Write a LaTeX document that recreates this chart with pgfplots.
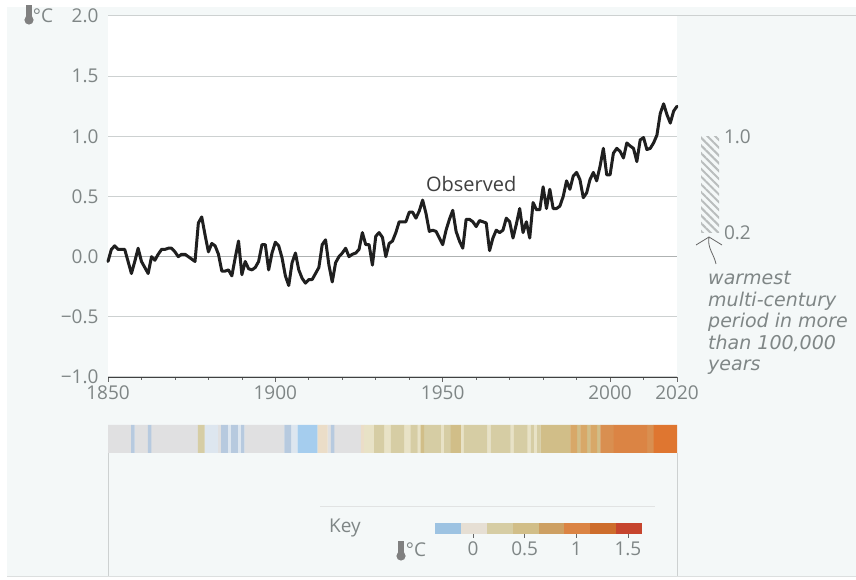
\documentclass[border=0pt]{standalone}
\usepackage{fontspec}
\setmainfont{Open Sans}
\newfontfamily\handfont{DejaVu Sans}[ItalicFont={DejaVu Sans Oblique}]
\usepackage{pgfplots}
\pgfplotsset{compat=1.18}
\usetikzlibrary{patterns.meta}
\definecolor{panel}{HTML}{F4F8F8}
\definecolor{gridc}{HTML}{CDD1D1}
\definecolor{txt}{HTML}{7F8686}
\definecolor{hatchc}{HTML}{B9BDBD}
\definecolor{sG}{HTML}{E0E0E1}
\definecolor{sL}{HTML}{DDE6EF}
\definecolor{sBG}{HTML}{B7CADF}
\definecolor{sB}{HTML}{A5CDEE}
\definecolor{sK}{HTML}{EBDDC8}
\definecolor{sP}{HTML}{E8E2C6}
\definecolor{sT}{HTML}{D6CDA4}
\definecolor{sU}{HTML}{D1BE88}
\definecolor{sO}{HTML}{D8A868}
\definecolor{sR}{HTML}{D98F50}
\definecolor{sS}{HTML}{DB8444}
\definecolor{sX}{HTML}{DF7630}
\newcommand{\bodyfont}{\fontsize{19}{22}\selectfont}
\begin{document}
\begin{tikzpicture}[x=1pt,y=1pt]
\path[use as bounding box] (0,0) rectangle (856,580);
\fill[white] (0,0) rectangle (856,580);
\fill[panel] (7,4) rectangle (856,573);
% panel rules
\draw[gridc,line width=0.8pt] (108,127) -- (108,4);
\draw[gridc,line width=0.8pt] (677,127) -- (677,4);
\draw[gridc!60,line width=0.8pt] (320,74) -- (655,74);
\draw[gridc!70,line width=0.8pt] (7,4) -- (856,4);
\begin{axis}[
  at={(108pt,203pt)},anchor=south west,scale only axis,width=569pt,height=361pt,
  xmin=1850,xmax=2020,ymin=-1,ymax=2,clip=false,
  axis lines=left,axis line style={-},
  y axis line style={draw=none},
  x axis line style={draw=black!75,line width=0.7pt},
  axis background/.style={fill=white},
  xtick={1850,1900,1950,2000,2020},
  xticklabels={1850,1900,1950,2000,2020},
  minor xtick={1860,1870,1880,1890,1910,1920,1930,1940,1960,1970,1980,1990,2010},
  ytick={-1,-0.5,0,0.5,1,1.5,2},
  yticklabels={−1.0,−0.5,0.0,0.5,1.0,1.5,2.0},
  ymajorgrids,
  grid style={gridc,line width=1pt},
  tick label style={font=\bodyfont,text=txt},
  x tick style={draw=black!60,line width=0.7pt},
  y tick style={draw=none},
  tick align=outside,
  major tick length=5pt,minor tick length=3pt,
  xticklabel style={yshift=-0.5pt},
  yticklabel style={xshift=-1pt},
]
\addplot[draw=gridc!85!black,line width=1.5pt,forget plot] coordinates {(1850,0)(2020,0)};
\addplot[draw=gridc,line width=1pt,forget plot] coordinates {(2020,2)(2073.5,2)};
\addplot[draw=none,pattern={Lines[angle=-45,distance=5.5pt,line width=2pt]},pattern color=hatchc] coordinates {(2027.2,0.2)(2032.6,0.2)(2032.6,1.0)(2027.2,1.0)} -- cycle;
\addplot[color=black!88,line width=3pt,line join=round,line cap=round] coordinates {
(1850,-0.04)(1851,0.06)(1852,0.09)(1853,0.06)(1854,0.06)(1855,0.06)(1856,-0.04)(1857,-0.14)(1858,-0.04)(1859,0.07)
(1860,-0.04)(1861,-0.09)(1862,-0.14)(1863,0.00)(1864,-0.03)(1865,0.02)(1866,0.06)(1867,0.06)(1868,0.07)(1869,0.07)
(1870,0.04)(1871,0.00)(1872,0.02)(1873,0.02)(1874,0.00)(1875,-0.02)(1876,-0.04)(1877,0.28)(1878,0.33)(1879,0.18)
(1880,0.04)(1881,0.11)(1882,0.09)(1883,0.02)(1884,-0.12)(1885,-0.12)(1886,-0.11)(1887,-0.16)(1888,-0.01)(1889,0.13)
(1890,-0.15)(1891,-0.04)(1892,-0.10)(1893,-0.11)(1894,-0.09)(1895,-0.04)(1896,0.10)(1897,0.10)(1898,-0.11)(1899,0.03)
(1900,0.12)(1901,0.09)(1902,-0.01)(1903,-0.16)(1904,-0.24)(1905,-0.05)(1906,0.03)(1907,-0.11)(1908,-0.18)(1909,-0.22)
(1910,-0.19)(1911,-0.19)(1912,-0.14)(1913,-0.09)(1914,0.10)(1915,0.14)(1916,-0.07)(1917,-0.21)(1918,-0.05)(1919,0.00)
(1920,0.03)(1921,0.07)(1922,0.00)(1923,0.02)(1924,0.03)(1925,0.06)(1926,0.20)(1927,0.10)(1928,0.10)(1929,-0.07)
(1930,0.17)(1931,0.20)(1932,0.16)(1933,0.00)(1934,0.11)(1935,0.13)(1936,0.20)(1937,0.29)(1938,0.29)(1939,0.29)
(1940,0.37)(1941,0.37)(1942,0.32)(1943,0.38)(1944,0.47)(1945,0.36)(1946,0.21)(1947,0.22)(1948,0.21)(1949,0.155)
(1950,0.10)(1951,0.22)(1952,0.31)(1953,0.385)(1954,0.21)(1955,0.13)(1956,0.07)(1957,0.31)(1958,0.31)(1959,0.29)
(1960,0.25)(1961,0.30)(1962,0.29)(1963,0.28)(1964,0.05)(1965,0.155)(1966,0.22)(1967,0.20)(1968,0.22)(1969,0.32)
(1970,0.29)(1971,0.155)(1972,0.27)(1973,0.40)(1974,0.20)(1975,0.29)(1976,0.155)(1977,0.45)(1978,0.39)(1979,0.39)
(1980,0.58)(1981,0.40)(1982,0.56)(1983,0.40)(1984,0.40)(1985,0.42)(1986,0.50)(1987,0.63)(1988,0.56)(1989,0.67)
(1990,0.70)(1991,0.64)(1992,0.49)(1993,0.53)(1994,0.64)(1995,0.70)(1996,0.63)(1997,0.75)(1998,0.90)(1999,0.68)
(2000,0.68)(2001,0.86)(2002,0.90)(2003,0.875)(2004,0.82)(2005,0.945)(2006,0.92)(2007,0.90)(2008,0.79)(2009,0.97)
(2010,0.99)(2011,0.89)(2012,0.90)(2013,0.945)(2014,1.01)(2015,1.19)(2016,1.27)(2017,1.18)(2018,1.11)(2019,1.21)(2020,1.25)};
\node[font=\fontsize{20}{22}\selectfont,text=black!75,anchor=center] at (axis cs:1958.5,0.605) {Observed};
\node[font=\bodyfont,text=txt,anchor=west] at (axis cs:2033,1.0) {1.0};
\node[font=\bodyfont,text=txt,anchor=west] at (axis cs:2033,0.2) {0.2};
\end{axis}
% stripes
\begin{axis}[
  at={(108pt,127pt)},anchor=south west,scale only axis,width=569pt,height=28pt,
  xmin=1849.5,xmax=2020.5,ymin=0,ymax=1,hide axis,
  ybar,bar width=3.45pt,bar shift=0pt,
  every axis plot/.append style={draw=none},
]
\addplot[fill=sG] coordinates {(1850,1)(1851,1)(1852,1)(1853,1)(1854,1)(1855,1)(1856,1)(1858,1)(1859,1)(1860,1)(1861,1)(1863,1)(1864,1)(1865,1)(1866,1)(1867,1)(1868,1)(1869,1)(1870,1)(1871,1)(1872,1)(1873,1)(1874,1)(1875,1)(1876,1)(1883,1)(1891,1)(1892,1)(1893,1)(1894,1)(1895,1)(1896,1)(1897,1)(1898,1)(1899,1)(1900,1)(1901,1)(1902,1)(1916,1)(1918,1)(1919,1)(1920,1)(1921,1)(1922,1)(1923,1)(1924,1)(1925,1)};
\addplot[fill=sL] coordinates {(1879,1)(1880,1)(1881,1)(1882,1)(1886,1)(1889,1)(1905,1)(1906,1)};
\addplot[fill=sBG] coordinates {(1857,1)(1862,1)(1884,1)(1885,1)(1887,1)(1888,1)(1890,1)(1903,1)(1904,1)(1917,1)};
\addplot[fill=sB] coordinates {(1907,1)(1908,1)(1909,1)(1910,1)(1911,1)(1912,1)};
\addplot[fill=sK] coordinates {(1913,1)(1914,1)(1915,1)(1926,1)};
\addplot[fill=sP] coordinates {(1927,1)(1928,1)(1929,1)(1933,1)(1934,1)(1939,1)(1940,1)(1943,1)(1950,1)(1956,1)(1964,1)(1971,1)(1976,1)(1978,1)};
\addplot[fill=sT] coordinates {(1877,1)(1878,1)(1930,1)(1931,1)(1932,1)(1935,1)(1936,1)(1937,1)(1938,1)(1941,1)(1942,1)(1945,1)(1946,1)(1947,1)(1948,1)(1949,1)(1951,1)(1952,1)(1957,1)(1958,1)(1959,1)(1960,1)(1961,1)(1962,1)(1963,1)(1965,1)(1966,1)(1967,1)(1968,1)(1969,1)(1970,1)(1972,1)(1973,1)(1974,1)(1975,1)(1977,1)(1979,1)};
\addplot[fill=sU] coordinates {(1944,1)(1953,1)(1954,1)(1955,1)(1980,1)(1981,1)(1982,1)(1983,1)(1984,1)(1985,1)(1986,1)(1987,1)(1988,1)(1991,1)(1994,1)(1997,1)};
\addplot[fill=sO] coordinates {(1989,1)(1990,1)(1992,1)(1993,1)(1995,1)(1996,1)};
\addplot[fill=sR] coordinates {(1998,1)(1999,1)(2000,1)(2001,1)(2012,1)(2013,1)};
\addplot[fill=sS] coordinates {(2002,1)(2003,1)(2004,1)(2005,1)(2006,1)(2007,1)(2008,1)(2009,1)(2010,1)(2011,1)};
\addplot[fill=sX] coordinates {(2014,1)(2015,1)(2016,1)(2017,1)(2018,1)(2019,1)(2020,1)};
\end{axis}
% key
\begin{axis}[
  at={(435pt,46pt)},anchor=south west,scale only axis,width=207pt,height=11pt,
  xmin=-0.368,xmax=1.636,ymin=0,ymax=1,
  axis lines=left,axis line style={draw=none,-},
  ytick=\empty,
  xtick={0,0.5,1,1.5},xticklabels={0,0.5,1,1.5},
  tick label style={font=\bodyfont,text=txt},
  x tick style={draw=black!60,line width=0.8pt},
  tick align=outside,major tick length=4pt,
  ybar,bar width=25.9pt,bar shift=0pt,
  every axis plot/.append style={draw=none},
]
\addplot[fill=sB!95!black] coordinates {(-0.24,1)};
\addplot[fill=sK!50!sG] coordinates {(0.01,1)};
\addplot[fill=sT] coordinates {(0.26,1)};
\addplot[fill=sU] coordinates {(0.51,1)};
\addplot[fill=sO!95!black] coordinates {(0.76,1)};
\addplot[fill=sS] coordinates {(1.01,1)};
\addplot[fill=sX!92!black] coordinates {(1.26,1)};
\definecolor{sZ}{HTML}{C6452E}
\addplot[fill=sZ] coordinates {(1.51,1)};
\end{axis}
\node[font=\bodyfont,text=txt,anchor=center] at (345,52) {Key};
\node[font=\bodyfont,text=txt,anchor=center] at (416,30) {°C};
\node[font=\bodyfont,text=txt,anchor=center] at (43,564) {°C};
% thermometers
\foreach \cx/\cy in {29/566,401/30}{
  \fill[black!50] (\cx-2.6,\cy-5) rectangle (\cx+2.6,\cy+9);
  \fill[black!50] (\cx,\cy-6) circle (4.6);
}
% arrow
\draw[black!60,line width=0.8pt] (696,335) -- (709,343) -- (722,335);
\draw[black!60,line width=0.8pt] (709,343) .. controls (707,332) and (714,326) .. (716,316);
% note
\node[font=\handfont\itshape\fontsize{19}{21.5}\selectfont,text=txt,anchor=north west,align=left,inner sep=0pt] at (708,309) {warmest\\multi-century\\period in more\\than 100,000\\years};
\end{tikzpicture}
\end{document}
